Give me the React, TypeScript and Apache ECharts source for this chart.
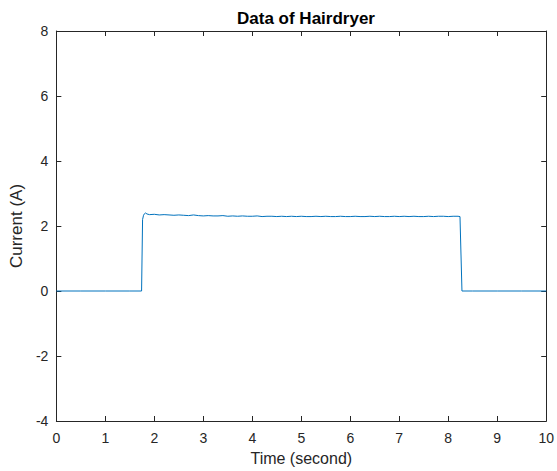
import React, { useEffect, useRef } from "react";
import * as echarts from "echarts";

const title = "Data of Hairdryer";
const xName = "Time (second)";
const yName = "Current (A)";

const timeSec = [
  0, 0.5, 1.0, 1.5, 1.74, 1.76, 1.78, 1.8, 1.82, 1.85, 1.9, 2.0, 2.1, 2.2, 2.3, 2.4, 2.5,
  2.6, 2.7, 2.8, 2.9, 3.0, 3.1, 3.2, 3.3, 3.4, 3.5, 3.6, 3.7, 3.8, 3.9, 4.0, 4.1, 4.2,
  4.3, 4.4, 4.5, 4.6, 4.7, 4.8, 4.9, 5.0, 5.1, 5.2, 5.3, 5.4, 5.5, 5.6, 5.7, 5.8, 5.9,
  6.0, 6.1, 6.2, 6.3, 6.4, 6.5, 6.6, 6.7, 6.8, 6.9, 7.0, 7.1, 7.2, 7.3, 7.4, 7.5, 7.6,
  7.7, 7.8, 7.9, 8.0, 8.1, 8.2, 8.24, 8.28, 8.5, 9.0, 9.5, 10.0,
];
const currentA = [
  0, 0, 0, 0, 0, 2.2, 2.33, 2.38, 2.4, 2.37, 2.35, 2.36, 2.34, 2.35, 2.34, 2.33, 2.34,
  2.33, 2.32, 2.34, 2.32, 2.31, 2.32, 2.31, 2.31, 2.32, 2.30, 2.31, 2.30, 2.31, 2.30, 2.30,
  2.31, 2.29, 2.30, 2.30, 2.29, 2.30, 2.29, 2.30, 2.29, 2.30, 2.29, 2.29, 2.30, 2.29, 2.30,
  2.29, 2.29, 2.30, 2.29, 2.29, 2.30, 2.29, 2.29, 2.30, 2.29, 2.30, 2.29, 2.29, 2.30, 2.29,
  2.30, 2.29, 2.30, 2.29, 2.29, 2.30, 2.29, 2.30, 2.30, 2.29, 2.30, 2.30, 2.29, 0, 0, 0, 0, 0,
];

const axisColor = "#262626";
const font = "Liberation Sans, Arial, Helvetica, sans-serif";

export default function App() {
  const ref = useRef<HTMLDivElement>(null);
  useEffect(() => {
    document.body.style.margin = "0";
    const chart = echarts.init(ref.current!, null, { renderer: "svg" });
    const data = timeSec.map((t, i) => [t, currentA[i]]);
    const commonLine = { show: true, onZero: false, lineStyle: { color: axisColor, width: 1 } };
    const tick = { show: true, inside: true, length: 5, lineStyle: { color: axisColor, width: 1 } };
    chart.setOption({
      animation: false,
      backgroundColor: "#ffffff",
      title: {
        text: title,
        left: 301,
        textAlign: "center",
        top: 5,
        textStyle: { fontFamily: font, fontSize: 17, fontWeight: "bold", color: "#000" },
      },
      grid: { left: 55, right: 9, top: 31, bottom: 48, containLabel: false },
      xAxis: [
        {
          type: "value",
          min: 0,
          max: 10,
          interval: 1,
          name: xName,
          nameLocation: "middle",
          nameGap: 29,
          nameTextStyle: { fontFamily: font, fontSize: 16, color: axisColor },
          axisLine: commonLine,
          axisTick: tick,
          axisLabel: { fontFamily: font, fontSize: 14, color: axisColor, margin: 10 },
          splitLine: { show: false },
        },
        {
          type: "value",
          position: "top",
          min: 0,
          max: 10,
          interval: 1,
          axisLine: commonLine,
          axisTick: tick,
          axisLabel: { show: false },
          splitLine: { show: false },
        },
      ],
      yAxis: [
        {
          type: "value",
          min: -4,
          max: 8,
          interval: 2,
          name: yName,
          nameLocation: "middle",
          nameGap: 27,
          nameTextStyle: { fontFamily: font, fontSize: 17, color: axisColor },
          axisLine: commonLine,
          axisTick: tick,
          axisLabel: { fontFamily: font, fontSize: 14, color: axisColor, margin: 8 },
          splitLine: { show: false },
        },
        {
          type: "value",
          position: "right",
          min: -4,
          max: 8,
          interval: 2,
          axisLine: commonLine,
          axisTick: tick,
          axisLabel: { show: false },
          splitLine: { show: false },
        },
      ],
      series: [
        {
          type: "line",
          data,
          xAxisIndex: 0,
          yAxisIndex: 0,
          showSymbol: false,
          symbol: "none",
          lineStyle: { color: "#0072BD", width: 1 },
        },
      ],
    });
    return () => chart.dispose();
  }, []);
  return <div ref={ref} style={{ width: 557, height: 471 }} />;
}
